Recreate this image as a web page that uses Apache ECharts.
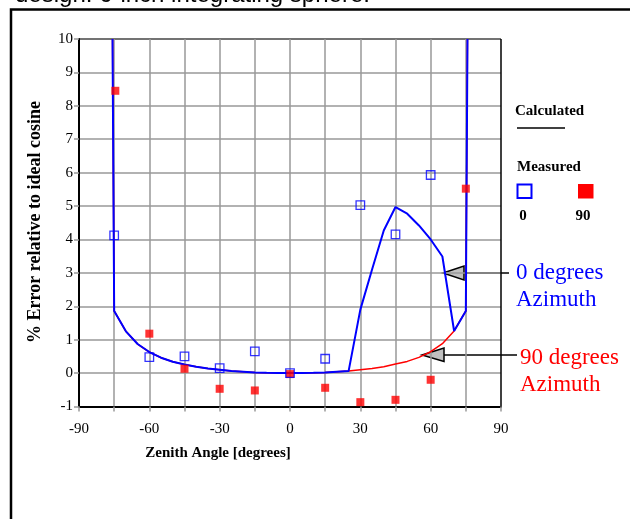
<!DOCTYPE html>
<html>
<head>
<meta charset="utf-8">
<script src="https://cdn.jsdelivr.net/npm/echarts@6/dist/echarts.min.js"></script>
<style>
html,body{margin:0;padding:0;background:#fff;}
#chart{width:630px;height:519px;}
</style>
</head>
<body>
<div id="chart"></div>
<script>
// Calculated curves
const calcAngles0 = [-75.7, -75, -70, -65, -60, -55, -50, -45, -40, -35, -30, -25, -20, -15, -10, -5, 0, 5, 10, 15, 20, 25, 30, 35, 40, 45, 50, 55, 60, 65, 70, 75, 75.7];
const calcValues0 = [10, 1.86, 1.25, 0.87, 0.63, 0.46, 0.34, 0.26, 0.19, 0.14, 0.1, 0.06, 0.04, 0.02, 0.01, 0.003, 0, 0.003, 0.01, 0.02, 0.04, 0.06, 1.9, 3.1, 4.27, 4.97, 4.77, 4.42, 4.0, 3.49, 1.26, 1.86, 10];
const calcAngles90 = [-75.7, -75, -70, -65, -60, -55, -50, -45, -40, -35, -30, -25, -20, -15, -10, -5, 0, 5, 10, 15, 20, 25, 30, 35, 40, 45, 50, 55, 60, 65, 70, 75, 75.7];
const calcValues90 = [10, 1.86, 1.25, 0.87, 0.63, 0.46, 0.34, 0.26, 0.19, 0.14, 0.1, 0.06, 0.04, 0.02, 0.01, 0.003, 0, 0.003, 0.01, 0.02, 0.04, 0.06, 0.1, 0.14, 0.19, 0.27, 0.35, 0.47, 0.64, 0.88, 1.26, 1.86, 10];
// Measured
const measAngles0 = [-75, -60, -45, -30, -15, 0, 15, 30, 45, 60];
const measValues0 = [4.12, 0.48, 0.5, 0.15, 0.65, 0.0, 0.43, 5.03, 4.15, 5.93];
const measAngles90 = [-74.5, -60, -45, -30, -15, 0, 15, 30, 45, 60, 75];
const measValues90 = [8.45, 1.18, 0.13, -0.47, -0.52, -0.03, -0.44, -0.87, -0.8, -0.2, 5.52];
// Axis
const xTickLabels = [-90, -60, -30, 0, 30, 60, 90];
const yTickLabels = [-1, 0, 1, 2, 3, 4, 5, 6, 7, 8, 9, 10];

const pair = (xs, ys) => xs.map((x, i) => [x, ys[i]]);
const SERIF = '"Liberation Serif", "Times New Roman", serif';
const gridGray = '#999999';
const xLineColors = []; for (let i = 0; i < 13; i++) xLineColors.push(i === 12 ? '#000000' : gridGray);
const yLineColors = []; for (let i = 0; i < 12; i++) yLineColors.push(i === 11 ? '#444444' : gridGray);

const chart = echarts.init(document.getElementById('chart'), null, {renderer: 'canvas'});
chart.setOption({
  animation: false,
  backgroundColor: '#ffffff',
  grid: {left: 79, right: 129, top: 39, bottom: 112.5, containLabel: false},
  xAxis: {
    type: 'value', min: -90, max: 90, interval: 15,
    axisLine: {show: true, onZero: false, lineStyle: {color: '#000', width: 2}},
    axisTick: {show: true, length: 5, lineStyle: {color: gridGray, width: 1.5}},
    axisLabel: {
      formatter: v => (xTickLabels.indexOf(v) >= 0 ? String(v) : ''),
      fontFamily: SERIF, fontSize: 15, color: '#000', margin: 15
    },
    splitLine: {show: true, lineStyle: {color: xLineColors, width: 1.5}}
  },
  yAxis: {
    type: 'value', min: -1, max: 10, interval: 1,
    axisLine: {show: true, onZero: false, lineStyle: {color: '#000', width: 2}},
    axisTick: {show: true, length: 5, lineStyle: {color: gridGray, width: 1.5}},
    axisLabel: {
      formatter: v => (yTickLabels.indexOf(v) >= 0 ? String(v) : ''),
      fontFamily: SERIF, fontSize: 15, color: '#000', margin: 6
    },
    splitLine: {show: true, lineStyle: {color: yLineColors, width: 1.5}}
  },
  series: [
    {type: 'line', name: 'calc90', data: pair(calcAngles90, calcValues90), showSymbol: false, symbol: 'none',
     lineStyle: {color: '#ff0000', width: 1.5}, z: 2},
    {type: 'line', name: 'calc0', data: pair(calcAngles0, calcValues0), showSymbol: false, symbol: 'none',
     lineStyle: {color: '#0000ff', width: 2}, z: 3},
    {type: 'scatter', name: 'meas90', data: pair(measAngles90, measValues90), symbol: 'rect', symbolSize: 8,
     itemStyle: {color: '#ff0000'}, z: 4},
    {type: 'scatter', name: 'meas0', data: pair(measAngles0, measValues0), symbol: 'rect', symbolSize: 8.5,
     itemStyle: {color: 'rgba(0,0,0,0)', borderColor: '#0000ff', borderWidth: 1.3}, z: 5}
  ],
  graphic: [
    {type: 'rect', shape: {x: 11, y: 9.5, width: 800, height: 700}, style: {fill: null, stroke: '#000', lineWidth: 2.5}, silent: true},
    {type: 'text', x: 15, y: -5, style: {text: 'design: 6-inch integrating sphere.', font: '24px "Liberation Sans", Arial, sans-serif', fill: '#000', verticalAlign: 'middle', align: 'left'}},
    {type: 'text', x: 218, y: 453, style: {text: 'Zenith Angle [degrees]', font: 'bold 15px ' + SERIF, fill: '#000', align: 'center', verticalAlign: 'middle'}},
    {type: 'text', x: 35, y: 222, rotation: Math.PI / 2, style: {text: '% Error relative to ideal cosine', font: 'bold 18px ' + SERIF, fill: '#000', align: 'center', verticalAlign: 'middle'}},
    // legend
    {type: 'text', x: 515, y: 111, style: {text: 'Calculated', font: 'bold 15px ' + SERIF, fill: '#000', align: 'left', verticalAlign: 'middle'}},
    {type: 'line', shape: {x1: 517, y1: 128, x2: 565, y2: 128}, style: {stroke: '#000', lineWidth: 1.5}},
    {type: 'text', x: 517, y: 167, style: {text: 'Measured', font: 'bold 15px ' + SERIF, fill: '#000', align: 'left', verticalAlign: 'middle'}},
    {type: 'rect', shape: {x: 517.5, y: 184.5, width: 14, height: 13.5}, style: {fill: '#fff', stroke: '#0000ff', lineWidth: 2}},
    {type: 'rect', shape: {x: 578, y: 184, width: 15.5, height: 14.5}, style: {fill: '#ff0000', stroke: null}},
    {type: 'text', x: 523, y: 216, style: {text: '0', font: 'bold 15px ' + SERIF, fill: '#000', align: 'center', verticalAlign: 'middle'}},
    {type: 'text', x: 583, y: 216, style: {text: '90', font: 'bold 15px ' + SERIF, fill: '#000', align: 'center', verticalAlign: 'middle'}},
    // annotations
    {type: 'line', shape: {x1: 464, y1: 273, x2: 509, y2: 273}, style: {stroke: '#000', lineWidth: 1.5}},
    {type: 'polygon', shape: {points: [[443, 273], [464, 266], [464, 280]]}, style: {fill: '#c0c0c0', stroke: '#000', lineWidth: 1.5}},
    {type: 'line', shape: {x1: 444, y1: 355, x2: 517, y2: 355}, style: {stroke: '#000', lineWidth: 1.5}},
    {type: 'polygon', shape: {points: [[422, 355], [444, 348], [444, 361.5]]}, style: {fill: '#c0c0c0', stroke: '#000', lineWidth: 1.5}},
    {type: 'text', x: 516, y: 273, style: {text: '0 degrees', font: '23px ' + SERIF, fill: '#0000ff', align: 'left', verticalAlign: 'middle'}},
    {type: 'text', x: 516, y: 300, style: {text: 'Azimuth', font: '23px ' + SERIF, fill: '#0000ff', align: 'left', verticalAlign: 'middle'}},
    {type: 'text', x: 520, y: 358, style: {text: '90 degrees', font: '23px ' + SERIF, fill: '#ff0000', align: 'left', verticalAlign: 'middle'}},
    {type: 'text', x: 520, y: 385, style: {text: 'Azimuth', font: '23px ' + SERIF, fill: '#ff0000', align: 'left', verticalAlign: 'middle'}}
  ]
});
</script>
</body>
</html>
